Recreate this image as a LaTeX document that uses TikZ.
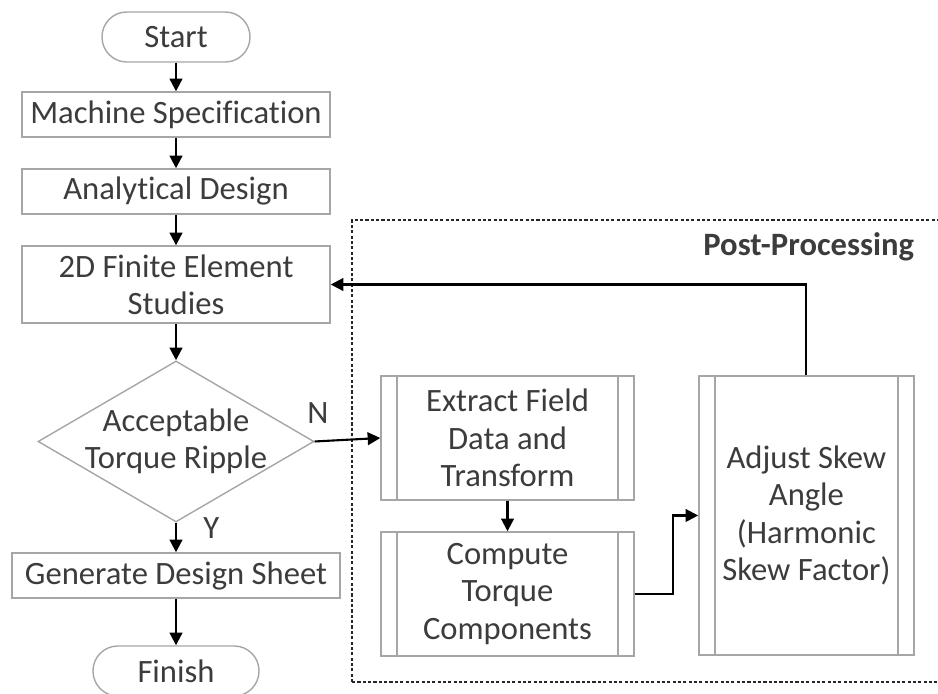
\documentclass[tikz,border=0pt]{standalone}
\usepackage{fontspec}
\setmainfont[Ligatures=NoCommon]{Carlito}
\usetikzlibrary{shapes.geometric,arrows.meta}
\definecolor{boxgray}{HTML}{A6A6A6}
\definecolor{txtgray}{HTML}{3C3C3C}

\begin{document}
\begin{tikzpicture}[
		font=\fontsize{11.6}{13.3}\selectfont, text=txtgray,
		flowbox/.style={draw=boxgray, line width=0.5pt, rectangle, minimum width=3.85cm, minimum height=0.5625cm, inner sep=0pt, align=center},
		termbox/.style={draw=boxgray, line width=0.5pt, rectangle, rounded corners=0.31cm, minimum height=0.625cm, inner sep=0pt, align=center},
		procbox/.style={flowbox, path picture={
				\draw[boxgray, line width=0.5pt] ([xshift=0.2cm]path picture bounding box.north west) -- ([xshift=0.2cm]path picture bounding box.south west);
				\draw[boxgray, line width=0.5pt] ([xshift=-0.2cm]path picture bounding box.north east) -- ([xshift=-0.2cm]path picture bounding box.south east);}},
		flowarrow/.style={-{Triangle[width=4.5pt,length=4.5pt]}, line width=0.75pt, draw=black}]
		\useasboundingbox (0,0) rectangle (11.725,8.6625);
		% post-processing frame
		\draw[line width=0.8pt, draw=black!85, dash pattern=on 1.1pt off 0.8pt] (4.4,0.1375) rectangle (11.9,5.9125);
		\node[anchor=east, font=\fontsize{11.6}{13.3}\selectfont\bfseries] (post) at (11.55,5.575) {Post-Processing};
		% main flow
		\node[termbox, minimum width=1.85cm] (start) at (2.2,8.2) {Start};
		\node[flowbox] (spec) at (2.2,7.231) {Machine Specification};
		\node[flowbox] (anal) at (2.2,6.269) {Analytical Design};
		\node[flowbox, minimum height=0.9625cm] (fea) at (2.2,5.106) {2D Finite Element\\Studies};
		\node[draw=boxgray, line width=0.5pt, diamond, minimum width=3.45cm, minimum height=2.0125cm, inner sep=-12pt, align=center] (ripple) at (2.2,3.144) {Acceptable\\Torque Ripple};
		\node[flowbox, minimum width=4.1cm] (sheet) at (2.2,1.469) {Generate Design Sheet};
		\node[termbox, minimum width=2.075cm] (finish) at (2.2,0.275) {Finish};
		\node (no) at (3.975,3.5) {N};
		\node (yes) at (2.64,2.06) {Y};
		% post-processing steps
		\node[procbox, minimum width=3.1625cm, minimum height=1.55cm] (extract) at (6.344,3.1875) {Extract Field\\Data and\\Transform};
		\node[procbox, minimum width=3.1625cm, minimum height=1.55cm] (torque) at (6.344,1.2375) {Compute\\Torque\\Components};
		\node[procbox, minimum width=2.6875cm, minimum height=3.4875cm] (skew) at (10.08,2.219) {Adjust Skew\\Angle\\(Harmonic\\Skew Factor)};
		\coordinate (bend) at (8.4125,1.2375);
		% connectors
		\draw[flowarrow] (start) -- (spec);
		\draw[flowarrow] (spec) -- (anal);
		\draw[flowarrow] (anal) -- (fea);
		\draw[flowarrow] (fea) -- (ripple);
		\draw[flowarrow] (ripple.south) -- (sheet);
		\draw[flowarrow] (sheet) -- (finish);
		\draw[flowarrow] (ripple.east) -- (extract.west);
		\draw[flowarrow] (extract) -- (torque);
		\draw[flowarrow] (torque.east) -- (bend) |- (skew.west);
		\draw[flowarrow] (skew.north) |- (fea.east);
	\end{tikzpicture}
\end{document}
